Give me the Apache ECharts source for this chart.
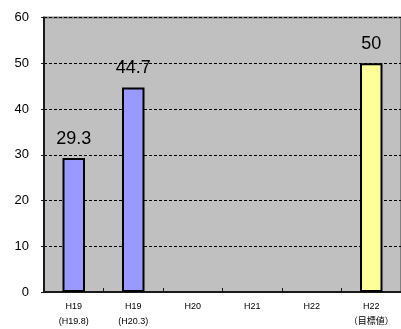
<!DOCTYPE html>
<html>
<head>
<meta charset="utf-8">
<script src="https://cdn.jsdelivr.net/npm/echarts@6/dist/echarts.min.js"></script>
<style>
  html, body { margin: 0; padding: 0; background: #fff; }
  #chart { width: 401px; height: 329px; }
</style>
</head>
<body>
<div id="chart"></div>
<script>
// Categories: fiscal year, with the survey month or target note underneath
const categories = ['H19\n(H19.8)', 'H19\n(H20.3)', 'H20', 'H21', 'H22', 'H22\n（目標値）'];
// Measured values (null where no survey yet) and the final-year target
const values = [29.3, 44.7, null, null, null, 50];
const isTarget = [false, false, false, false, false, true];
const yTicks = { min: 0, max: 60, interval: 10 };

const chart = echarts.init(document.getElementById('chart'), null, { renderer: 'canvas' });

chart.setOption({
  animation: false,
  textStyle: { fontFamily: '"Liberation Sans", Arial, "Noto Sans CJK JP", sans-serif' },
  grid: {
    left: 44, top: 17.5, width: 368, bottom: 35.5,
    show: true,
    backgroundColor: '#c0c0c0',
    borderColor: '#7f7f7f',
    borderWidth: 2
  },
  xAxis: {
    type: 'category',
    data: categories,
    axisLine: { lineStyle: { color: '#1a1a1a', width: 2 } },
    axisTick: { show: true, inside: true, length: 4, lineStyle: { color: '#1a1a1a', width: 1 } },
    axisLabel: {
      fontSize: 9, lineHeight: 15, color: '#000', margin: 7,
      fontFamily: '"Liberation Sans", Arial, "Noto Sans CJK JP", sans-serif'
    }
  },
  yAxis: {
    type: 'value',
    min: yTicks.min, max: yTicks.max, interval: yTicks.interval,
    axisLine: { show: true, lineStyle: { color: '#1a1a1a', width: 2 } },
    axisTick: { show: true, length: 3, lineStyle: { color: '#1a1a1a' } },
    axisLabel: { fontSize: 13, color: '#000', margin: 15 },
    splitLine: { show: true, lineStyle: { color: '#000', width: 1, type: [3, 2] } }
  },
  series: [{
    type: 'bar',
    barWidth: 22.5,
    data: values.map((v, i) => ({
      value: v,
      itemStyle: { color: isTarget[i] ? '#ffff99' : '#9999ff' }
    })),
    itemStyle: { borderColor: '#000', borderWidth: 2 },
    label: {
      show: true, position: 'top', distance: 10,
      fontSize: 18, color: '#000',
      formatter: p => (p.value == null ? '' : String(p.value))
    }
  }]
});
</script>
</body>
</html>
